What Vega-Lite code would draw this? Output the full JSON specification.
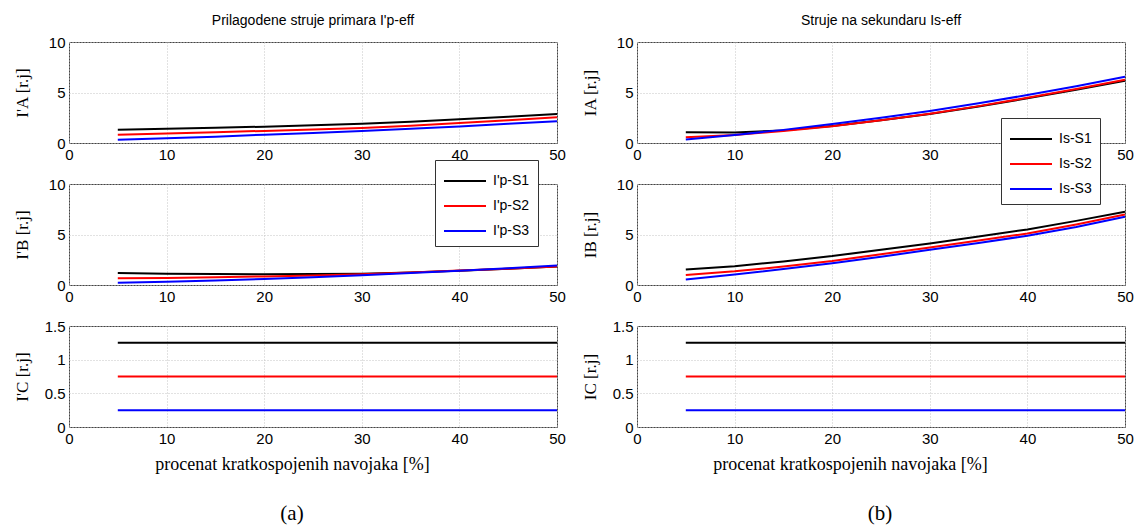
{
  "$schema": "https://vega.github.io/schema/vega-lite/v6.json",
  "background": "white",
  "padding": {"left": 12, "top": 13, "right": 5, "bottom": 0},
  "config": {
    "view": {"stroke": "#444444", "strokeWidth": 1},
    "axis": {"grid": true, "gridColor": "#c4c4c4", "gridDash": [1, 2], "gridWidth": 1, "domain": false, "ticks": false, "labelFont": "Liberation Sans", "labelFontSize": 15, "labelColor": "#000000", "labelPadding": 4, "labelFlush": false, "labelOverlap": false, "titleFont": "Liberation Serif", "titleFontSize": 17, "titleFontWeight": "normal", "titleColor": "#000000"},
    "axisY": {"titleX": -38, "titleBaseline": "bottom"},
    "legend": {"orient": "none", "title": null, "strokeColor": "#333333", "fillColor": "#ffffff", "padding": 8, "symbolType": "M-1,0H2.5", "symbolSize": 576, "symbolStrokeWidth": 1.5, "labelFont": "Liberation Sans", "labelFontSize": 14, "labelColor": "#000000", "labelOffset": 24, "rowPadding": 5, "cornerRadius": 0},
    "line": {"strokeWidth": 2}
  },
  "data": {"values": [
    {"c":"p","k":"A","s":"S1","x":5,"y":1.31},{"c":"p","k":"A","s":"S1","x":10,"y":1.40},{"c":"p","k":"A","s":"S1","x":15,"y":1.50},{"c":"p","k":"A","s":"S1","x":20,"y":1.62},{"c":"p","k":"A","s":"S1","x":25,"y":1.75},{"c":"p","k":"A","s":"S1","x":30,"y":1.90},{"c":"p","k":"A","s":"S1","x":35,"y":2.10},{"c":"p","k":"A","s":"S1","x":40,"y":2.35},{"c":"p","k":"A","s":"S1","x":45,"y":2.60},{"c":"p","k":"A","s":"S1","x":50,"y":2.88},
    {"c":"p","k":"A","s":"S2","x":5,"y":0.82},{"c":"p","k":"A","s":"S2","x":10,"y":0.95},{"c":"p","k":"A","s":"S2","x":15,"y":1.07},{"c":"p","k":"A","s":"S2","x":20,"y":1.20},{"c":"p","k":"A","s":"S2","x":25,"y":1.33},{"c":"p","k":"A","s":"S2","x":30,"y":1.48},{"c":"p","k":"A","s":"S2","x":35,"y":1.70},{"c":"p","k":"A","s":"S2","x":40,"y":1.98},{"c":"p","k":"A","s":"S2","x":45,"y":2.25},{"c":"p","k":"A","s":"S2","x":50,"y":2.55},
    {"c":"p","k":"A","s":"S3","x":5,"y":0.33},{"c":"p","k":"A","s":"S3","x":10,"y":0.46},{"c":"p","k":"A","s":"S3","x":15,"y":0.63},{"c":"p","k":"A","s":"S3","x":20,"y":0.82},{"c":"p","k":"A","s":"S3","x":25,"y":1.00},{"c":"p","k":"A","s":"S3","x":30,"y":1.18},{"c":"p","k":"A","s":"S3","x":35,"y":1.40},{"c":"p","k":"A","s":"S3","x":40,"y":1.64},{"c":"p","k":"A","s":"S3","x":45,"y":1.90},{"c":"p","k":"A","s":"S3","x":50,"y":2.16},
    {"c":"p","k":"B","s":"S1","x":5,"y":1.18},{"c":"p","k":"B","s":"S1","x":10,"y":1.12},{"c":"p","k":"B","s":"S1","x":15,"y":1.08},{"c":"p","k":"B","s":"S1","x":20,"y":1.07},{"c":"p","k":"B","s":"S1","x":25,"y":1.08},{"c":"p","k":"B","s":"S1","x":30,"y":1.12},{"c":"p","k":"B","s":"S1","x":35,"y":1.25},{"c":"p","k":"B","s":"S1","x":40,"y":1.42},{"c":"p","k":"B","s":"S1","x":45,"y":1.62},{"c":"p","k":"B","s":"S1","x":50,"y":1.83},
    {"c":"p","k":"B","s":"S2","x":5,"y":0.68},{"c":"p","k":"B","s":"S2","x":10,"y":0.70},{"c":"p","k":"B","s":"S2","x":15,"y":0.77},{"c":"p","k":"B","s":"S2","x":20,"y":0.85},{"c":"p","k":"B","s":"S2","x":25,"y":0.95},{"c":"p","k":"B","s":"S2","x":30,"y":1.06},{"c":"p","k":"B","s":"S2","x":35,"y":1.23},{"c":"p","k":"B","s":"S2","x":40,"y":1.43},{"c":"p","k":"B","s":"S2","x":45,"y":1.62},{"c":"p","k":"B","s":"S2","x":50,"y":1.82},
    {"c":"p","k":"B","s":"S3","x":5,"y":0.22},{"c":"p","k":"B","s":"S3","x":10,"y":0.32},{"c":"p","k":"B","s":"S3","x":15,"y":0.45},{"c":"p","k":"B","s":"S3","x":20,"y":0.60},{"c":"p","k":"B","s":"S3","x":25,"y":0.77},{"c":"p","k":"B","s":"S3","x":30,"y":0.96},{"c":"p","k":"B","s":"S3","x":35,"y":1.18},{"c":"p","k":"B","s":"S3","x":40,"y":1.42},{"c":"p","k":"B","s":"S3","x":45,"y":1.66},{"c":"p","k":"B","s":"S3","x":50,"y":1.93},
    {"c":"p","k":"C","s":"S1","x":5,"y":1.25},{"c":"p","k":"C","s":"S1","x":50,"y":1.25},
    {"c":"p","k":"C","s":"S2","x":5,"y":0.75},{"c":"p","k":"C","s":"S2","x":50,"y":0.75},
    {"c":"p","k":"C","s":"S3","x":5,"y":0.25},{"c":"p","k":"C","s":"S3","x":50,"y":0.25},
    {"c":"s","k":"A","s":"S1","x":5,"y":1.07},{"c":"s","k":"A","s":"S1","x":10,"y":1.04},{"c":"s","k":"A","s":"S1","x":15,"y":1.25},{"c":"s","k":"A","s":"S1","x":20,"y":1.68},{"c":"s","k":"A","s":"S1","x":25,"y":2.25},{"c":"s","k":"A","s":"S1","x":30,"y":2.88},{"c":"s","k":"A","s":"S1","x":35,"y":3.62},{"c":"s","k":"A","s":"S1","x":40,"y":4.42},{"c":"s","k":"A","s":"S1","x":45,"y":5.28},{"c":"s","k":"A","s":"S1","x":50,"y":6.15},
    {"c":"s","k":"A","s":"S2","x":5,"y":0.58},{"c":"s","k":"A","s":"S2","x":10,"y":0.80},{"c":"s","k":"A","s":"S2","x":15,"y":1.20},{"c":"s","k":"A","s":"S2","x":20,"y":1.67},{"c":"s","k":"A","s":"S2","x":25,"y":2.25},{"c":"s","k":"A","s":"S2","x":30,"y":2.90},{"c":"s","k":"A","s":"S2","x":35,"y":3.65},{"c":"s","k":"A","s":"S2","x":40,"y":4.48},{"c":"s","k":"A","s":"S2","x":45,"y":5.35},{"c":"s","k":"A","s":"S2","x":50,"y":6.27},
    {"c":"s","k":"A","s":"S3","x":5,"y":0.35},{"c":"s","k":"A","s":"S3","x":10,"y":0.80},{"c":"s","k":"A","s":"S3","x":15,"y":1.30},{"c":"s","k":"A","s":"S3","x":20,"y":1.88},{"c":"s","k":"A","s":"S3","x":25,"y":2.50},{"c":"s","k":"A","s":"S3","x":30,"y":3.17},{"c":"s","k":"A","s":"S3","x":35,"y":3.93},{"c":"s","k":"A","s":"S3","x":40,"y":4.75},{"c":"s","k":"A","s":"S3","x":45,"y":5.62},{"c":"s","k":"A","s":"S3","x":50,"y":6.55},
    {"c":"s","k":"B","s":"S1","x":5,"y":1.53},{"c":"s","k":"B","s":"S1","x":10,"y":1.86},{"c":"s","k":"B","s":"S1","x":15,"y":2.33},{"c":"s","k":"B","s":"S1","x":20,"y":2.86},{"c":"s","k":"B","s":"S1","x":25,"y":3.50},{"c":"s","k":"B","s":"S1","x":30,"y":4.12},{"c":"s","k":"B","s":"S1","x":35,"y":4.80},{"c":"s","k":"B","s":"S1","x":40,"y":5.50},{"c":"s","k":"B","s":"S1","x":45,"y":6.35},{"c":"s","k":"B","s":"S1","x":50,"y":7.25},
    {"c":"s","k":"B","s":"S2","x":5,"y":1.00},{"c":"s","k":"B","s":"S2","x":10,"y":1.35},{"c":"s","k":"B","s":"S2","x":15,"y":1.83},{"c":"s","k":"B","s":"S2","x":20,"y":2.38},{"c":"s","k":"B","s":"S2","x":25,"y":3.05},{"c":"s","k":"B","s":"S2","x":30,"y":3.72},{"c":"s","k":"B","s":"S2","x":35,"y":4.40},{"c":"s","k":"B","s":"S2","x":40,"y":5.10},{"c":"s","k":"B","s":"S2","x":45,"y":6.00},{"c":"s","k":"B","s":"S2","x":50,"y":6.98},
    {"c":"s","k":"B","s":"S3","x":5,"y":0.55},{"c":"s","k":"B","s":"S3","x":10,"y":1.05},{"c":"s","k":"B","s":"S3","x":15,"y":1.58},{"c":"s","k":"B","s":"S3","x":20,"y":2.15},{"c":"s","k":"B","s":"S3","x":25,"y":2.80},{"c":"s","k":"B","s":"S3","x":30,"y":3.48},{"c":"s","k":"B","s":"S3","x":35,"y":4.15},{"c":"s","k":"B","s":"S3","x":40,"y":4.88},{"c":"s","k":"B","s":"S3","x":45,"y":5.75},{"c":"s","k":"B","s":"S3","x":50,"y":6.75},
    {"c":"s","k":"C","s":"S1","x":5,"y":1.25},{"c":"s","k":"C","s":"S1","x":50,"y":1.25},
    {"c":"s","k":"C","s":"S2","x":5,"y":0.75},{"c":"s","k":"C","s":"S2","x":50,"y":0.75},
    {"c":"s","k":"C","s":"S3","x":5,"y":0.25},{"c":"s","k":"C","s":"S3","x":50,"y":0.25}
  ]},
  "columns": 2,
  "spacing": {"row": 41, "column": 80},
  "bounds": "flush",
  "resolve": {"scale": {"color": "independent"}, "legend": {"color": "independent"}},
  "concat": [
    {
      "width": 488, "height": 101,
      "title": {"text": "Prilagodene struje primara I'p-eff", "font": "Liberation Sans", "fontSize": 14, "fontWeight": "normal", "color": "#000000", "frame": "group", "offset": 7},
      "transform": [{"filter": "datum.c == 'p' && datum.k == 'A'"}],
      "mark": {"type": "line", "strokeWidth": 2},
      "encoding": {
        "x": {"field": "x", "type": "quantitative", "scale": {"domain": [0, 50], "nice": false}, "axis": {"values": [0, 10, 20, 30, 40, 50], "title": null}},
        "y": {"field": "y", "type": "quantitative", "scale": {"domain": [0, 10], "nice": false}, "axis": {"values": [0, 5, 10], "title": "I'A [r.j]"}},
        "color": {"field": "s", "type": "nominal", "scale": {"domain": ["S1", "S2", "S3"], "range": ["#000000", "#ff0000", "#0000ff"]}, "legend": null}
      }
    },
    {
      "width": 488, "height": 101,
      "title": {"text": "Struje na sekundaru Is-eff", "font": "Liberation Sans", "fontSize": 14, "fontWeight": "normal", "color": "#000000", "frame": "group", "offset": 7},
      "transform": [{"filter": "datum.c == 's' && datum.k == 'A'"}],
      "mark": {"type": "line", "strokeWidth": 2},
      "encoding": {
        "x": {"field": "x", "type": "quantitative", "scale": {"domain": [0, 50], "nice": false}, "axis": {"values": [0, 10, 20, 30, 40, 50], "title": null}},
        "y": {"field": "y", "type": "quantitative", "scale": {"domain": [0, 10], "nice": false}, "axis": {"values": [0, 5, 10], "title": "IA [r.j]"}},
        "color": {"field": "s", "type": "nominal", "scale": {"domain": ["S1", "S2", "S3"], "range": ["#000000", "#ff0000", "#0000ff"]}, "legend": null}
      }
    },
    {
      "width": 488, "height": 101,
      "transform": [{"filter": "datum.c == 'p' && datum.k == 'B'"}],
      "mark": {"type": "line", "strokeWidth": 2},
      "encoding": {
        "x": {"field": "x", "type": "quantitative", "scale": {"domain": [0, 50], "nice": false}, "axis": {"values": [0, 10, 20, 30, 40, 50], "title": null}},
        "y": {"field": "y", "type": "quantitative", "scale": {"domain": [0, 10], "nice": false}, "axis": {"values": [0, 5, 10], "title": "I'B [r.j]"}},
        "color": {"field": "s", "type": "nominal", "scale": {"domain": ["S1", "S2", "S3"], "range": ["#000000", "#ff0000", "#0000ff"]}, "legend": {"legendX": 366, "legendY": -24, "labelExpr": "\"I'p-\" + datum.label"}}
      }
    },
    {
      "width": 488, "height": 101,
      "transform": [{"filter": "datum.c == 's' && datum.k == 'B'"}],
      "mark": {"type": "line", "strokeWidth": 2},
      "encoding": {
        "x": {"field": "x", "type": "quantitative", "scale": {"domain": [0, 50], "nice": false}, "axis": {"values": [0, 10, 20, 30, 40, 50], "title": null}},
        "y": {"field": "y", "type": "quantitative", "scale": {"domain": [0, 10], "nice": false}, "axis": {"values": [0, 5, 10], "title": "IB [r.j]"}},
        "color": {"field": "s", "type": "nominal", "scale": {"domain": ["S1", "S2", "S3"], "range": ["#000000", "#ff0000", "#0000ff"]}, "legend": {"legendX": 364, "legendY": -66, "labelExpr": "\"Is-\" + datum.label"}}
      }
    },
    {
      "width": 488, "height": 101,
      "title": {"text": "(a)", "orient": "bottom", "frame": "group", "baseline": "top", "font": "Liberation Serif", "fontSize": 21, "fontWeight": "normal", "color": "#000000", "offset": 30, "dx": -21},
      "transform": [{"filter": "datum.c == 'p' && datum.k == 'C'"}],
      "mark": {"type": "line", "strokeWidth": 2},
      "encoding": {
        "x": {"field": "x", "type": "quantitative", "scale": {"domain": [0, 50], "nice": false}, "axis": {"values": [0, 10, 20, 30, 40, 50], "title": "procenat kratkospojenih navojaka [%]", "titleFontSize": 18, "titleX": 223, "titleY": 42, "titleAlign": "center", "titleBaseline": "alphabetic"}},
        "y": {"field": "y", "type": "quantitative", "scale": {"domain": [0, 1.5], "nice": false}, "axis": {"values": [0, 0.5, 1, 1.5], "format": ".1~f", "title": "I'C [r.j]"}},
        "color": {"field": "s", "type": "nominal", "scale": {"domain": ["S1", "S2", "S3"], "range": ["#000000", "#ff0000", "#0000ff"]}, "legend": null}
      }
    },
    {
      "width": 488, "height": 101,
      "title": {"text": "(b)", "orient": "bottom", "frame": "group", "baseline": "top", "font": "Liberation Serif", "fontSize": 21, "fontWeight": "normal", "color": "#000000", "offset": 30, "dx": -1},
      "transform": [{"filter": "datum.c == 's' && datum.k == 'C'"}],
      "mark": {"type": "line", "strokeWidth": 2},
      "encoding": {
        "x": {"field": "x", "type": "quantitative", "scale": {"domain": [0, 50], "nice": false}, "axis": {"values": [0, 10, 20, 30, 40, 50], "title": "procenat kratkospojenih navojaka [%]", "titleFontSize": 18, "titleX": 213, "titleY": 42, "titleAlign": "center", "titleBaseline": "alphabetic"}},
        "y": {"field": "y", "type": "quantitative", "scale": {"domain": [0, 1.5], "nice": false}, "axis": {"values": [0, 0.5, 1, 1.5], "format": ".1~f", "title": "IC [r.j]"}},
        "color": {"field": "s", "type": "nominal", "scale": {"domain": ["S1", "S2", "S3"], "range": ["#000000", "#ff0000", "#0000ff"]}, "legend": null}
      }
    }
  ]
}
